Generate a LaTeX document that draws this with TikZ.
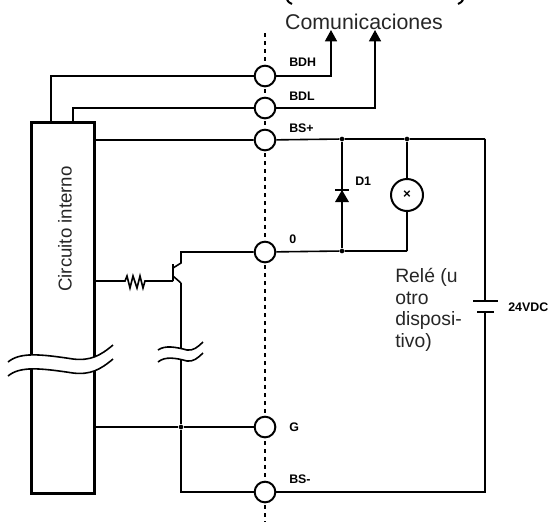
\documentclass[tikz,border=0pt]{standalone}
\usepackage{fontspec}
\setmainfont{Liberation Sans}
\usetikzlibrary{arrows.meta}
\tikzset{
  wire/.style = {line width = 1.2pt},
  tip wire/.style = {wire, -{Triangle[length = 8.5pt, width = 9pt]}},
  terminal/.style = {circle, draw, line width = 1.5pt, fill = white, minimum size = 15.5pt, inner sep = 0pt},
  bold label/.style = {font = \bfseries\fontsize{9.3}{11}\selectfont, inner sep = 0pt},
  plain label/.style = {font = \fontsize{14}{16}\selectfont, color = black!85, inner sep = 0pt},
  junction/.style = {circle, fill, minimum size = 3.5pt, inner sep = 0pt},
  break line/.style = {line width = 1.2pt, draw = black},
}
\begin{document}
\begin{tikzpicture}[x = 0.75pt, y = -0.75pt]
    \useasboundingbox (0, 0) rectangle (549, 522);
    % frame of the internal circuit
    \node[draw, line width = 2.4pt, minimum width = 47pt, minimum height = 278pt, inner sep = 0pt, anchor = north west] (circuit) at (30, 121) {};
    \node[plain label, rotate = 90] (circuit text) at (65, 229) {Circuito interno};
    % terminals
    \coordinate (line top) at (265, 33);
    \coordinate (line bottom) at (265, 522);
    \draw[dashed, line width = 1.3pt] (line top) -- (line bottom);
    \node[terminal] (bdh) at (265, 76) {};
    \node[terminal] (bdl) at (265, 108) {};
    \node[terminal] (bs plus) at (265, 140) {};
    \node[terminal] (zero) at (265, 252) {};
    \node[terminal] (g) at (265, 427) {};
    \node[terminal] (bs minus) at (265, 492) {};
    \node[bold label, anchor = west] (bdh text) at (289, 62) {BDH};
    \node[bold label, anchor = west] (bdl text) at (289, 96) {BDL};
    \node[bold label, anchor = west] (bs plus text) at (289, 128) {BS+};
    \node[bold label, anchor = west] (zero text) at (289, 239) {0};
    \node[bold label, anchor = west] (g text) at (289, 427) {G};
    \node[bold label, anchor = west] (bs minus text) at (289, 479) {BS-};
    \node[bold label, anchor = west] (d1 text) at (355, 181) {D1};
    \node[bold label, anchor = west] (dc text) at (508, 307) {24VDC};
    % communications
    \node[plain label, font = \fontsize{16}{18}\selectfont] (comm text) at (364, 22) {Comunicaciones};
    \draw[line width = 1.5pt] (287, 0) .. controls (288, 2) and (290, 3) .. (292, 4);
    \draw[line width = 1.5pt] (463, 0) .. controls (462, 2) and (460, 3) .. (458, 4);
    \coordinate (bdh tip) at (331, 30);
    \coordinate (bdl tip) at (375, 30);
    \draw[tip wire] (bdh) -| (bdh tip);
    \draw[tip wire] (bdl) -| (bdl tip);
    \coordinate (bdh start) at (51, 121);
    \coordinate (bdl start) at (73, 121);
    \draw[wire] (bdh start) |- (bdh);
    \draw[wire] (bdl start) |- (bdl);
    % relay side
    \node[junction] (top diode) at (342, 139) {};
    \node[junction] (top relay) at (407, 139) {};
    \node[junction] (bottom diode) at (342, 251) {};
    \coordinate (corner top) at (485, 139);
    \coordinate (corner bottom) at (407, 251);
    \coordinate (circuit plus) at (93, 140);
    \draw[wire] (circuit plus) -- (bs plus) -- (top diode) -- (top relay) -- (corner top);
    \draw[wire] (top diode) -- (bottom diode);
    \draw[wire] (zero) -- (bottom diode) -- (corner bottom);
    \node[draw, circle, line width = 1.5pt, fill = white, minimum size = 24pt, inner sep = 0pt, font = \bfseries\fontsize{10}{10}\selectfont] (relay) at (407, 195) {×};
    \draw[wire] (top relay) -- (relay);
    \draw[wire] (relay) -- (corner bottom);
    % diode
    \fill (342, 190) -- (349, 202) -- (335, 202) -- cycle;
    \draw[wire] (335, 190) -- (349, 190);
    \node[plain label, font = \fontsize{14.5}{16.2}\selectfont, align = left, anchor = north west] (relay text) at (395, 268) {Relé (u\\otro\\disposi-\\tivo)};
    % battery
    \coordinate (plate long) at (485, 301);
    \coordinate (plate short) at (485, 312);
    \coordinate (corner right) at (485, 492);
    \draw[wire] (corner top) -- (plate long);
    \draw[wire] (473, 301) -- (498, 301);
    \draw[wire] (477, 312) -- (494, 312);
    \draw[wire] (plate short) -- (corner right) -- (bs minus);
    % transistor and resistor
    \coordinate (base left) at (93, 281);
    \coordinate (base) at (173, 281);
    \coordinate (emitter) at (181, 283);
    \coordinate (collector) at (181, 252);
    \draw[wire] (base left) -- (125, 281) -- (127, 276) -- (130, 288) -- (133, 276) -- (137, 288) -- (140, 276) -- (143, 288) -- (145, 281) -- (base);
    \draw[line width = 1.6pt] (173, 264) -- (base);
    \draw[wire] (zero) -- (collector) -- (181, 263) -- (173, 268);
    \draw[wire] (173, 276) -- (emitter);
    \node[junction] (emitter junction) at (181, 427) {};
    \draw[wire] (emitter) -- (emitter junction) |- (bs minus);
    \draw[wire] (93, 427) -- (emitter junction) -- (g);
    % breaks
    \fill[white] (8, 362) .. controls (20, 352) and (40, 354) .. (73, 359) .. controls (90, 361) and (100, 356) .. (113, 345) -- (113, 359) .. controls (100, 370) and (90, 375) .. (73, 373) .. controls (40, 368) and (20, 366) .. (8, 376) -- cycle;
    \draw[break line] (8, 362) .. controls (20, 352) and (40, 354) .. (73, 359) .. controls (90, 361) and (100, 356) .. (113, 345);
    \draw[break line] (8, 376) .. controls (20, 366) and (40, 368) .. (73, 373) .. controls (90, 375) and (100, 370) .. (113, 359);
    \fill[white] (158, 350) .. controls (165, 345) and (176, 347) .. (187, 350) .. controls (193, 351) and (198, 347) .. (203, 342) -- (203, 353) .. controls (198, 358) and (193, 362) .. (187, 361) .. controls (176, 358) and (165, 356) .. (158, 362) -- cycle;
    \draw[break line] (158, 350) .. controls (165, 345) and (176, 347) .. (187, 350) .. controls (193, 351) and (198, 347) .. (203, 342);
    \draw[break line] (158, 362) .. controls (165, 356) and (176, 358) .. (187, 361) .. controls (193, 362) and (198, 358) .. (203, 353);
\end{tikzpicture}
\end{document}
